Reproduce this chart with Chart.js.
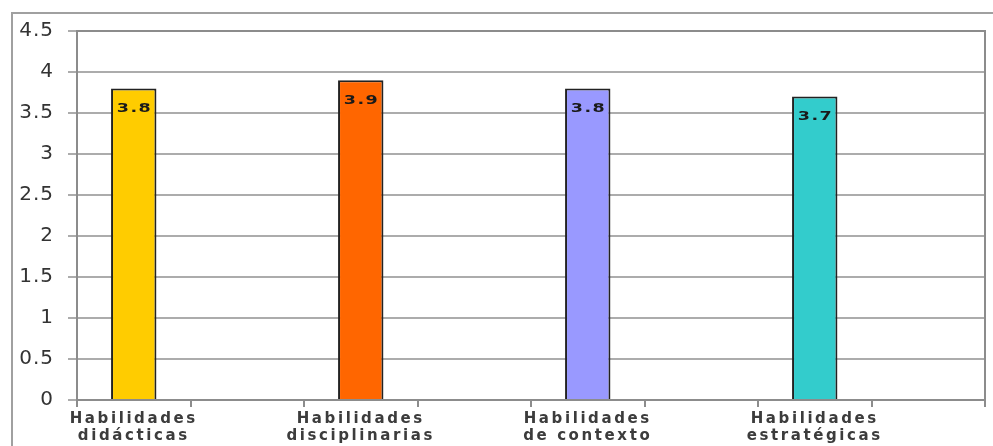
<!DOCTYPE html>
<html><head><meta charset="utf-8">
<style>
html,body{margin:0;padding:0;background:#fff;overflow:hidden}
#wrap{position:relative;width:993px;height:446px}
#frame{position:absolute;left:11px;top:12px;width:990px;height:440px;border-left:2px solid #a0a0a0;border-top:2px solid #a0a0a0;pointer-events:none}
canvas{display:block}
</style>
<script src="https://cdn.jsdelivr.net/npm/chart.js@4/dist/chart.umd.min.js"></script>
</head><body>
<div id="wrap"><canvas id="c" width="993" height="446"></canvas><div id="frame"></div></div>
<script>
const categories = [['Habilidades','didácticas'],['Habilidades','disciplinarias'],['Habilidades','de contexto'],['Habilidades','estratégicas']];
const values = [3.8, 3.9, 3.8, 3.7];
const valueLabels = ['3.8', '3.9', '3.8', '3.7'];
const barColors = ['#FFCC00', '#FF6600', '#9999FF', '#33CCCC'];
const yMin = 0, yMax = 4.5, yStep = 0.5;

// each category sits in its own slot followed by an empty slot
const slotLabels = [], slotValues = [], slotColors = [], slotText = [];
categories.forEach((c, i) => {
  slotLabels.push(c); slotValues.push(values[i]); slotColors.push(barColors[i]); slotText.push(valueLabels[i]);
  slotLabels.push(''); slotValues.push(null); slotColors.push('rgba(0,0,0,0)'); slotText.push('');
});

const decor = {
  id: 'decor',
  beforeDraw(chart) { chart.ctx.letterSpacing = '1px'; },
  afterDatasetsDraw(chart) {
    const ctx = chart.ctx;
    const meta = chart.getDatasetMeta(0);
    ctx.save();
    ctx.letterSpacing = '1px';
    ctx.font = 'bold 13px "DejaVu Sans"';
    ctx.fillStyle = '#1a1a1a';
    ctx.textAlign = 'center';
    ctx.textBaseline = 'middle';
    meta.data.forEach((el, i) => {
      if (!slotText[i]) return;
      ctx.save();
      ctx.translate(el.x, el.y + 20);
      ctx.scale(1.35, 1);
      ctx.fillText(slotText[i], 0.5, 0);
      ctx.restore();
    });
    ctx.restore();
    ctx.letterSpacing = '2.6px'; // spacing for the category labels drawn next
  },
  afterDraw(chart) {
    const {ctx, chartArea: a} = chart;
    ctx.save();
    ctx.strokeStyle = '#8c8c8c';
    ctx.lineWidth = 2;
    ctx.beginPath();
    ctx.moveTo(a.left, a.top);
    ctx.lineTo(a.right, a.top);
    ctx.lineTo(a.right, a.bottom);
    ctx.stroke();
    ctx.restore();
  }
};

new Chart(document.getElementById('c'), {
  type: 'bar',
  data: {
    labels: slotLabels,
    datasets: [{
      data: slotValues,
      backgroundColor: slotColors,
      borderColor: '#222',
      borderWidth: 2,
      categoryPercentage: 1,
      barPercentage: 0.4
    }]
  },
  options: {
    responsive: false,
    animation: false,
    events: [],
    layout: { padding: { left: 0, right: 8, top: 31, bottom: 0 } },
    plugins: { legend: { display: false }, tooltip: { enabled: false }, title: { display: false } },
    scales: {
      x: {
        grid: { offset: true, drawOnChartArea: false, drawTicks: true, tickLength: 7, color: '#8c8c8c', lineWidth: 2 },
        border: { color: '#8c8c8c', width: 2 },
        ticks: { z: 1, autoSkip: false, maxRotation: 0, minRotation: 0, padding: 4, color: '#3c3c3c',
                 font: { family: '"DejaVu Sans"', size: 15, weight: 'bold', lineHeight: 1.12 } },
        afterFit(s) { s.height = 46; }
      },
      y: {
        min: yMin, max: yMax,
        ticks: { stepSize: yStep, padding: 14, color: '#333',
                 font: { family: '"DejaVu Sans"', size: 20 },
                 callback: (v) => String(v) },
        grid: { color: '#acacac', lineWidth: 2, tickLength: 9 },
        border: { color: '#8c8c8c', width: 2 },
        afterFit(s) { s.width = 77; }
      }
    }
  },
  plugins: [decor]
});
</script>
</body></html>
